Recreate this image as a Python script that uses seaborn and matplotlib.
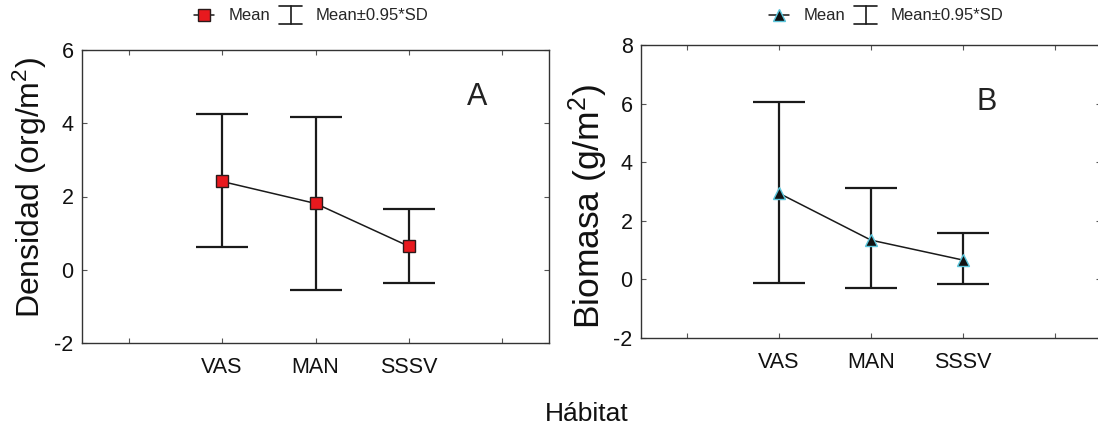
import numpy as np
import pandas as pd
import seaborn as sns
import matplotlib
matplotlib.use("Agg")
import matplotlib.pyplot as plt
from matplotlib.lines import Line2D
from matplotlib.legend_handler import HandlerBase

# ---- data ----
habitats = ["VAS", "MAN", "SSSV"]
dens_mean = [2.41, 1.81, 0.64]
dens_upper = [4.25, 4.18, 1.66]
dens_lower = [0.61, -0.55, -0.35]

bio_mean = [2.94, 1.34, 0.66]
bio_upper = [6.07, 3.11, 1.59]
bio_lower = [-0.13, -0.30, -0.17]

dens_yticks = [-2, 0, 2, 4, 6]
bio_yticks = [-2, 0, 2, 4, 6, 8]

sns.set_theme(style="white")
plt.rcParams["font.family"] = ["Liberation Sans", "DejaVu Sans"]
plt.rcParams["mathtext.fontset"] = "custom"
plt.rcParams["mathtext.rm"] = "Liberation Sans"
plt.rcParams["mathtext.it"] = "Liberation Sans:italic"
plt.rcParams["mathtext.default"] = "regular"

W, H = 1098, 429
fig = plt.figure(figsize=(W / 100, H / 100), dpi=100)
axA = fig.add_axes([82 / W, 1 - 343 / H, 467 / W, 293 / H])
axB = fig.add_axes([641 / W, 1 - 338 / H, 460 / W, 293 / H])


def panel(ax, mean, lower, upper, marker, mfc, mec, msize, yticks, letter, lxy):
    df = pd.DataFrame({"Hábitat": habitats, "val": mean})
    pos = np.arange(len(habitats))
    m = np.array(mean)
    yerr = [m - np.array(lower), np.array(upper) - m]
    ax.errorbar(pos, m, yerr=yerr, fmt="none", ecolor="#1a1a1a", elinewidth=1.6,
                capsize=18.5, capthick=1.6, zorder=2)
    sns.pointplot(data=df, x="Hábitat", y="val", ax=ax, errorbar=None,
                  color="#1a1a1a", markers=marker, linestyles="-",
                  markersize=msize, linewidth=1.1,
                  markerfacecolor=mfc, markeredgecolor=mec, markeredgewidth=1.0,
                  zorder=3)
    ax.set_xlim(-1.5, 3.5)
    ax.set_xticks([-1, 0, 1, 2, 3])
    ax.set_xticklabels(["", "VAS", "MAN", "SSSV", ""])
    ax.set_ylim(yticks[0], yticks[-1])
    ax.set_yticks(yticks)
    ax.set_yticklabels([str(t) for t in yticks])
    ax.set_xlabel("")
    ax.set_ylabel("")
    for s in ax.spines.values():
        s.set_visible(True)
        s.set_color("#333333")
        s.set_linewidth(1.0)
    ax.tick_params(axis="both", which="both", direction="in", length=3.5, width=0.8,
                   color="#555555", top=True, right=True, bottom=True, left=True,
                   labelsize=15.5, labelcolor="#111111")
    ax.tick_params(axis="x", pad=10)
    ax.tick_params(axis="y", pad=6)
    ax.text(lxy[0], lxy[1], letter, transform=ax.transAxes, fontsize=22,
            ha="center", va="center", color="#222222")


panel(axA, dens_mean, dens_lower, dens_upper, "s", "#e8191e", "#2a1a1a", 8.5,
      dens_yticks, "A", ((477 - 82) / 467, (343 - 97) / 293))
panel(axB, bio_mean, bio_lower, bio_upper, "^", "#111111", "#5cc6dc", 8.5,
      bio_yticks, "B", ((987 - 641) / 460, (338 - 102) / 293))

fig.text(30 / W, 1 - 188 / H, "Densidad (org/m$^{2}$)", rotation=90,
         ha="center", va="center", fontsize=23, color="#111111")
fig.text(588 / W, 1 - 207 / H, "Biomasa (g/m$^{2}$)", rotation=90,
         ha="center", va="center", fontsize=25.5, color="#111111")
fig.text(587 / W, 1 - 414 / H, "Hábitat", ha="center", va="center",
         fontsize=19, color="#111111")


class HandlerIBeam(HandlerBase):
    def create_artists(self, legend, orig_handle, xdescent, ydescent, width,
                       height, fontsize, trans):
        cx = width / 2 - xdescent
        cy = height / 2 - ydescent
        hh = 0.55 * fontsize
        hw = 0.7 * fontsize
        kw = dict(color="#1a1a1a", lw=1.2, transform=trans)
        return [Line2D([cx, cx], [cy - hh, cy + hh], **kw),
                Line2D([cx - hw, cx + hw], [cy + hh, cy + hh], **kw),
                Line2D([cx - hw, cx + hw], [cy - hh, cy - hh], **kw)]


class IBeam:
    pass


def add_legend(marker, mfc, mec, cx):
    h_mean = Line2D([], [], color="#1a1a1a", lw=1.1, marker=marker, markersize=8,
                    markerfacecolor=mfc, markeredgecolor=mec)
    h_sd = IBeam()
    fig.legend([h_mean, h_sd], ["Mean", "Mean±0.95*SD"], loc="center",
               bbox_to_anchor=(cx / W, 1 - 16 / H), ncol=2, frameon=False,
               fontsize=12, handlelength=1.2, handletextpad=0.9,
               columnspacing=0.6, borderpad=0.1,
               handler_map={IBeam: HandlerIBeam()})

add_legend("s", "#e8191e", "#2a1a1a", 311)
add_legend("^", "#111111", "#5cc6dc", 886)

fig.savefig("out.png", dpi=100)
